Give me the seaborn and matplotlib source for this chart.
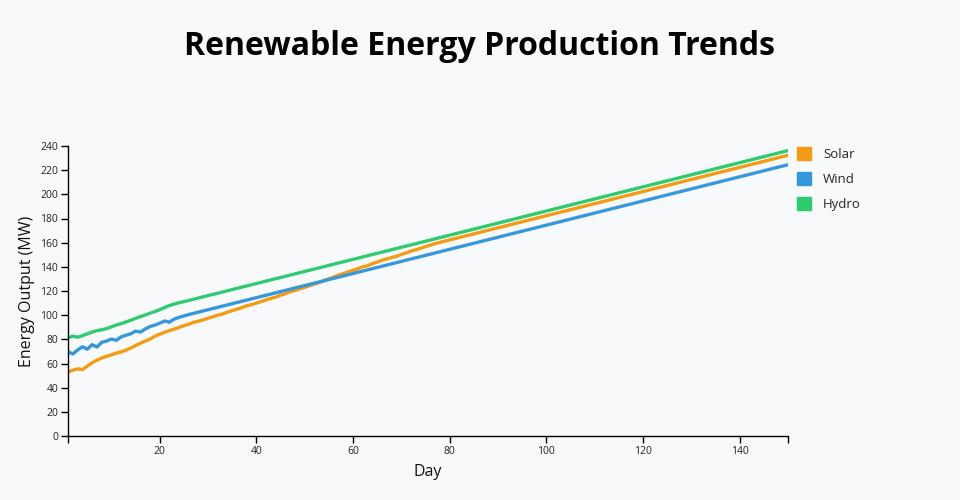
import numpy as np
import pandas as pd
import matplotlib
matplotlib.use("Agg")
import matplotlib.pyplot as plt
from matplotlib.patches import Patch
import seaborn as sns

# days 1..150
days = list(range(1, 151))

solar = [
    53.0, 54.4, 55.6, 55.0, 57.8, 60.6, 62.8, 64.6, 65.9, 67.2,
    68.6, 69.6, 71.0, 72.8, 74.8, 76.8, 78.6, 80.2, 82.6, 84.3,
    85.8, 87.3, 88.5, 89.9, 91.3, 92.5, 94.1, 95.0, 96.2, 97.5,
    98.7, 100.0, 100.9, 102.5, 103.7, 105.0, 106.2, 107.8, 108.7, 110.0,
    111.3, 112.6, 113.9, 114.9, 116.5, 117.8, 119.4, 120.4, 121.7, 123.0,
    124.4, 125.8, 127.0, 128.7, 130.1, 131.5, 133.2, 134.4, 135.8, 137.2,
    138.6, 140.0, 141.0, 142.6, 143.9, 145.5, 146.5, 147.7, 148.7, 150.3,
    151.5, 153.1, 154.1, 155.4, 156.7, 158.0, 159.2, 160.3, 161.3, 162.3,
    163.3, 164.3, 165.3, 166.3, 167.3, 168.3, 169.3, 170.3, 171.3, 172.3,
    173.3, 174.3, 175.3, 176.3, 177.3, 178.3, 179.3, 180.3, 181.3, 182.3,
    183.3, 184.3, 185.3, 186.3, 187.3, 188.3, 189.3, 190.3, 191.3, 192.3,
    193.3, 194.3, 195.3, 196.3, 197.3, 198.3, 199.3, 200.3, 201.3, 202.3,
    203.3, 204.3, 205.3, 206.3, 207.3, 208.3, 209.3, 210.3, 211.3, 212.3,
    213.3, 214.3, 215.3, 216.3, 217.3, 218.3, 219.3, 220.3, 221.3, 222.3,
    223.3, 224.3, 225.3, 226.3, 227.3, 228.3, 229.3, 230.3, 231.3, 232.3,
]

wind = [
    69.8, 67.9, 71.2, 73.9, 71.8, 75.6, 73.6, 77.6, 78.6, 80.2,
    79.2, 82.0, 83.4, 84.6, 86.8, 86.0, 88.6, 90.6, 91.8, 93.4,
    95.2, 94.2, 96.8, 98.2, 99.4, 100.5, 101.5, 102.5, 103.5, 104.5,
    105.5, 106.5, 107.5, 108.5, 109.5, 110.5, 111.5, 112.5, 113.5, 114.5,
    115.5, 116.5, 117.5, 118.5, 119.5, 120.5, 121.5, 122.5, 123.5, 124.5,
    125.5, 126.5, 127.5, 128.5, 129.5, 130.5, 131.5, 132.5, 133.5, 134.5,
    135.5, 136.5, 137.5, 138.5, 139.5, 140.5, 141.5, 142.5, 143.5, 144.5,
    145.5, 146.5, 147.5, 148.5, 149.5, 150.5, 151.5, 152.5, 153.5, 154.5,
    155.5, 156.5, 157.5, 158.5, 159.5, 160.5, 161.5, 162.5, 163.5, 164.5,
    165.5, 166.5, 167.5, 168.5, 169.5, 170.5, 171.5, 172.5, 173.5, 174.5,
    175.5, 176.5, 177.5, 178.5, 179.5, 180.5, 181.5, 182.5, 183.5, 184.5,
    185.5, 186.5, 187.5, 188.5, 189.5, 190.5, 191.5, 192.5, 193.5, 194.5,
    195.5, 196.5, 197.5, 198.5, 199.5, 200.5, 201.5, 202.5, 203.5, 204.5,
    205.5, 206.5, 207.5, 208.5, 209.5, 210.5, 211.5, 212.5, 213.5, 214.5,
    215.5, 216.5, 217.5, 218.5, 219.5, 220.5, 221.5, 222.5, 223.5, 224.5,
]

hydro = [
    81.4, 82.6, 81.8, 83.0, 84.6, 86.0, 87.2, 87.9, 88.9, 90.4,
    91.8, 93.0, 94.4, 95.8, 97.4, 98.8, 100.2, 101.6, 103.0, 104.6,
    106.3, 108.0, 109.2, 110.3, 111.2, 112.2, 113.2, 114.2, 115.2, 116.2,
    117.2, 118.2, 119.2, 120.2, 121.2, 122.2, 123.2, 124.2, 125.2, 126.2,
    127.2, 128.2, 129.2, 130.2, 131.2, 132.2, 133.2, 134.2, 135.2, 136.2,
    137.2, 138.2, 139.2, 140.2, 141.2, 142.2, 143.2, 144.2, 145.2, 146.2,
    147.2, 148.2, 149.2, 150.2, 151.2, 152.2, 153.2, 154.2, 155.2, 156.2,
    157.2, 158.2, 159.2, 160.2, 161.2, 162.2, 163.2, 164.2, 165.2, 166.2,
    167.2, 168.2, 169.2, 170.2, 171.2, 172.2, 173.2, 174.2, 175.2, 176.2,
    177.2, 178.2, 179.2, 180.2, 181.2, 182.2, 183.2, 184.2, 185.2, 186.2,
    187.2, 188.2, 189.2, 190.2, 191.2, 192.2, 193.2, 194.2, 195.2, 196.2,
    197.2, 198.2, 199.2, 200.2, 201.2, 202.2, 203.2, 204.2, 205.2, 206.2,
    207.2, 208.2, 209.2, 210.2, 211.2, 212.2, 213.2, 214.2, 215.2, 216.2,
    217.2, 218.2, 219.2, 220.2, 221.2, 222.2, 223.2, 224.2, 225.2, 226.2,
    227.2, 228.2, 229.2, 230.2, 231.2, 232.2, 233.2, 234.2, 235.2, 236.2,
]

series_names = ["Solar", "Wind", "Hydro"]
colors = ["#f39c12", "#3498db", "#2ecc71"]
y_ticks = [0, 20, 40, 60, 80, 100, 120, 140, 160, 180, 200, 220, 240]
x_ticks = [20, 40, 60, 80, 100, 120, 140]

bg = "#f8f9fa"

sns.set_theme(style="ticks")
plt.rcParams["font.family"] = ["Open Sans", "DejaVu Sans"]

df = pd.DataFrame({
    "Day": days * 3,
    "Output": solar + wind + hydro,
    "Source": [n for n in series_names for _ in days],
})

fig = plt.figure(figsize=(9.6, 5), dpi=100, facecolor=bg)
ax = fig.add_axes([0.0708, 0.128, 0.75, 0.58])
ax.set_facecolor(bg)

sns.lineplot(data=df, x="Day", y="Output", hue="Source", hue_order=series_names,
             palette=colors, linewidth=2.4, legend=False, ax=ax)

ax.set_xlim(1, 150)
ax.set_ylim(0, 240)
ax.set_xticks(x_ticks)
ax.set_xticks([1, 150], minor=True)
ax.set_yticks(y_ticks)
ax.tick_params(axis="both", which="major", labelsize=7.5, length=5, width=1, pad=2,
               color="black", labelcolor="#222222")
ax.tick_params(axis="x", which="minor", length=5, width=1, color="black")
sns.despine(ax=ax)
for s in ["left", "bottom"]:
    ax.spines[s].set_color("black")
    ax.spines[s].set_linewidth(1)

ax.set_xlabel("Day", fontsize=11.5, color="#111111", labelpad=5)
ax.set_ylabel("Energy Output (MW)", fontsize=11.5, color="#111111", labelpad=4)

fig.suptitle("Renewable Energy Production Trends", x=0.5, y=0.94,
             fontsize=23, fontweight="bold", color="black")

handles = [Patch(facecolor=c, edgecolor=c) for c in colors]
leg = ax.legend(handles, series_names, loc="upper left", bbox_to_anchor=(1.005, 1.015),
                frameon=False, fontsize=9.5, handlelength=1.1, handleheight=1.1,
                handletextpad=0.9, labelspacing=0.85, borderaxespad=0.0)

fig.savefig("out.png", dpi=100, facecolor=bg)
